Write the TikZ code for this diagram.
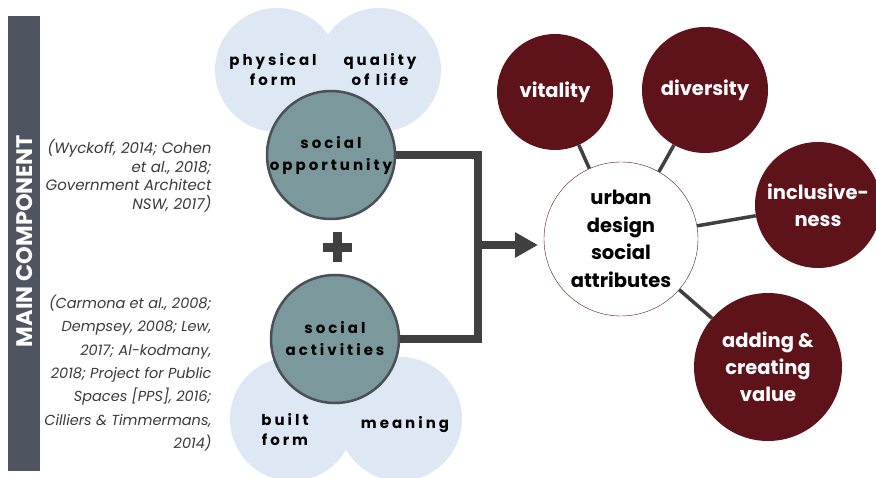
\documentclass[tikz,border=0pt]{standalone}
\usepackage{fontspec}
\setmainfont{Poppins}
\newfontfamily\spaced[LetterSpace=20]{Poppins}
\usetikzlibrary{arrows.meta}

\definecolor{barslate}{HTML}{4F5461}
\definecolor{tealgray}{HTML}{7B989C}
\definecolor{rimgray}{HTML}{4A4F58}
\definecolor{paleblue}{HTML}{DDE8F4}
\definecolor{wine}{HTML}{5E1219}
\definecolor{linkgray}{HTML}{404040}
\definecolor{citegray}{HTML}{3A3A3A}

\begin{document}
\begin{tikzpicture}[x=1pt,y=-1pt,
    pale/.style={circle,fill=paleblue,minimum size=124pt,inner sep=0pt},
    palelabel/.style={align=center,font=\spaced\bfseries\fontsize{15}{20}\selectfont},
    teal/.style={circle,fill=tealgray,draw=rimgray,line width=2.5pt,minimum size=128pt,inner sep=0pt,
        align=center,font=\spaced\bfseries\fontsize{15}{22}\selectfont},
    attr/.style={circle,fill=wine,text=white,inner sep=0pt,align=center,
        font=\bfseries\fontsize{19.5}{27}\selectfont},
    cite/.style={anchor=east,align=right,text=citegray,font=\itshape\fontsize{15}{18.5}\selectfont},
    conn/.style={draw=linkgray,line width=8pt,line join=miter},
    link/.style={draw=linkgray,line width=3.5pt}]
        \useasboundingbox (0,0) rectangle (876,478);

        % Side bar
        \fill[barslate] (8,16) rectangle (40,471);
        \node[rotate=90,text=white,font=\bfseries\fontsize{22.5}{22.5}\selectfont] (main) at (25,241) {MAIN COMPONENT};

        % Citations
        \node[cite] (citeA) at (215,176) {(Wyckoff, 2014; Cohen\\et al., 2018;\\Government Architect\\NSW, 2017)};
        \node[cite,font=\itshape\fontsize{14.5}{23.3}\selectfont] (citeB) at (215,373) {(Carmona et al., 2008;\\Dempsey, 2008; Lew,\\2017; Al-kodmany,\\2018; Project for Public\\Spaces [PPS], 2016;\\Cilliers \& Timmermans,\\2014)};

        % Pale circles
        \node[pale] (phys) at (277,70) {};
        \node[pale] (qual) at (379,70) {};
        \node[pale] (built) at (292,419) {};
        \node[pale] (mean) at (400,419) {};
        \node[palelabel] at (273,70) {physical\\form};
        \node[palelabel] at (380,70) {quality\\of life};
        \node[palelabel] at (285,430) {built\\form};
        \node[palelabel] at (405,425) {meaning};

        % Components
        \node[teal] (opp) at (331,155) {social\\opportunity};
        \node[teal] (act) at (335,339) {social\\activities};

        % Plus
        \fill[linkgray] (333,232) rectangle (342,262);
        \fill[linkgray] (323,243) rectangle (352,252);

        % Join and arrow
        \coordinate (join) at (478,245);
        \draw[conn] (opp.east) -| (join) |- (act.east);
        \draw[conn,-{Triangle[length=23pt,width=24pt]}] (join) -- (538,245);

        % Attributes
        \node[circle,draw=wine,fill=white,minimum size=154pt,inner sep=0pt,align=center,
            font=\bfseries\fontsize{19.5}{27.5}\selectfont] (urban) at (621,239) {urban\\design\\social\\attributes};
        \node[attr,minimum size=116pt] (vit) at (555,92) {vitality};
        \node[attr,minimum size=126pt] (div) at (705,90) {diversity};
        \node[attr,minimum size=126pt] (incl) at (818,205) {inclusive-\\ness};
        \node[attr,minimum size=148pt] (add) at (768,367) {adding \&\\creating\\value};

        % Links
        \draw[link] (urban) -- (vit);
        \draw[link] (urban) -- (div);
        \draw[link] (urban) -- (incl);
        \draw[link] (urban) -- (add);

\end{tikzpicture}
\end{document}
